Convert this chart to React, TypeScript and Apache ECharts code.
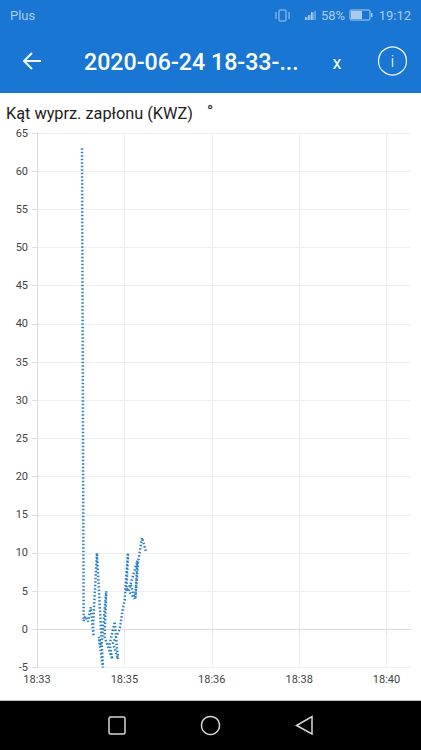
import React, { useEffect, useRef } from "react";
import * as echarts from "echarts";

const xTickLabels = ["18:33", "18:35", "18:36", "18:38", "18:40"];
const xTickPositions = [0, 1, 2, 3, 4];
const yTicks = [-5, 0, 5, 10, 15, 20, 25, 30, 35, 40, 45, 50, 55, 60, 65];
// x is measured in tick intervals after 18:33
const timeOffsets = [0.515, 0.534, 0.553, 0.584, 0.614, 0.648, 0.641, 0.686, 0.755, 0.706, 0.736, 0.793, 0.774, 0.862, 0.831, 0.889, 0.927, 0.87, 0.946, 0.984, 1.003, 1.041, 1.022, 1.072, 1.118, 1.049, 1.148, 1.125, 1.156, 1.201, 1.251];
const ignitionAngle = [63, 1.1, 1.7, 1, 2.9, -0.9, 0.4, 10, -5, -1, -2.3, 5, -1, -3.9, -2, 1, -3.9, -1.8, 0, 2.8, 3.8, 10, 5, 5.9, 4, 5, 9, 4, 8.7, 12, 10];

const titleText = "Kąt wyprz. zapłonu (KWZ)";
const headerText = "2020-06-24 18-33-...";

const BLUE = "#1976d2";
const FONT = "Roboto, 'Noto Sans', sans-serif";

export default function App() {
  const ref = useRef<HTMLDivElement>(null);
  useEffect(() => {
    document.body.style.margin = "0";
    const chart = echarts.init(ref.current!, null, { renderer: "svg" });
    const t = (text: string, x: number, y: number, size: number, fill: string, extra: any = {}) => ({
      type: "text", x, y,
      style: { text, fill, font: `${extra.weight || 400} ${size}px ${FONT}`, textAlign: extra.align || "left", textVerticalAlign: "middle" },
    });
    const muted = "#a9cbef";
    chart.setOption({
      animation: false,
      backgroundColor: "#fff",
      grid: { left: 37, right: 10, top: 133, height: 534.5 },
      xAxis: {
        type: "value", min: 0, max: 4.28,
        axisLine: { show: true, lineStyle: { color: "#dcdcdc" } },
        axisTick: { show: true, customValues: xTickPositions, length: 4, lineStyle: { color: "#dcdcdc" } },
        axisLabel: {
          customValues: xTickPositions,
          formatter: (v: number) => xTickLabels[Math.round(v)],
          color: "#444", fontSize: 11, fontFamily: FONT, margin: 6,
        },
        splitLine: { show: true, lineStyle: { color: "#eeeeee" } },
      },
      yAxis: {
        type: "value", min: -5, max: 65, interval: 5,
        axisLine: { show: true, lineStyle: { color: "#dcdcdc" } },
        axisTick: { show: true, length: 5, lineStyle: { color: "#dcdcdc" } },
        axisLabel: { color: "#444", fontSize: 11, fontFamily: FONT, margin: 9,
          formatter: (v: number) => String(yTicks[yTicks.indexOf(v)]) },
        splitLine: { show: true, lineStyle: { color: "#eeeeee" } },
      },
      series: [{
        type: "line", showSymbol: false, silent: true,
        data: timeOffsets.map((x, i) => [x, ignitionAngle[i]]),
        lineStyle: { color: "#2b80c9", width: 2.5, type: [1.5, 2] },
      }],
      graphic: [
        { type: "rect", shape: { x: 0, y: 0, width: 421, height: 93 }, style: { fill: BLUE }, silent: true },
        t("Plus", 10, 15, 13, muted),
        t("58%", 333, 15, 13, muted, { align: "center" }),
        t("19:12", 411, 15, 13, muted, { align: "right" }),
        { type: "rect", shape: { x: 279, y: 10, width: 7, height: 11, r: 1 }, style: { fill: "none", stroke: muted, lineWidth: 1 } },
        { type: "line", shape: { x1: 276, y1: 12, x2: 276, y2: 19 }, style: { stroke: muted, lineWidth: 1 } },
        { type: "line", shape: { x1: 289, y1: 12, x2: 289, y2: 19 }, style: { stroke: muted, lineWidth: 1 } },
        { type: "polygon", shape: { points: [[304, 20], [316, 20], [316, 10]] }, style: { fill: "#5f9fe0" } },
        { type: "rect", shape: { x: 305, y: 17, width: 1.5, height: 3 }, style: { fill: muted } },
        { type: "rect", shape: { x: 308, y: 15, width: 1.5, height: 5 }, style: { fill: muted } },
        { type: "rect", shape: { x: 311, y: 12, width: 1.5, height: 8 }, style: { fill: muted } },
        { type: "rect", shape: { x: 350, y: 10, width: 20, height: 10, r: 1 }, style: { fill: "none", stroke: muted, lineWidth: 1 } },
        { type: "rect", shape: { x: 351, y: 11, width: 11, height: 8 }, style: { fill: muted } },
        { type: "rect", shape: { x: 371, y: 13, width: 1.5, height: 4 }, style: { fill: muted } },
        { type: "polyline", shape: { points: [[24, 61], [32, 53], [24, 61], [32, 69]] }, style: { fill: "none", stroke: "#f1f6fc", lineWidth: 2 } },
        { type: "line", shape: { x1: 24, y1: 61, x2: 41, y2: 61 }, style: { stroke: "#f1f6fc", lineWidth: 2 } },
        t(headerText, 84, 62, 23.2, "#fbfdff", { weight: 500 }),
        t("x", 337, 62, 18, "#fbfdff", { align: "center", weight: 400 }),
        { type: "circle", shape: { cx: 392.5, cy: 61, r: 14 }, style: { fill: "none", stroke: "#f1f6fc", lineWidth: 1.2 } },
        t("i", 392.5, 61, 17, "#f1f6fc", { align: "center", weight: 300 }),
        t(titleText, 6, 113, 16.3, "#222"),
        t("°", 210, 111, 16.5, "#222", { align: "center" }),
        { type: "rect", shape: { x: 0, y: 700, width: 421, height: 50 }, style: { fill: "#000" } },
        { type: "line", shape: { x1: 0, y1: 700.5, x2: 421, y2: 700.5 }, style: { stroke: "#bdbdbd", lineWidth: 1 } },
        { type: "rect", shape: { x: 109, y: 717, width: 16, height: 17, r: 1.5 }, style: { fill: "none", stroke: "#d8d8d8", lineWidth: 1.5 } },
        { type: "circle", shape: { cx: 210.5, cy: 725.5, r: 9 }, style: { fill: "none", stroke: "#d8d8d8", lineWidth: 1.5 } },
        { type: "polygon", shape: { points: [[312, 716.5], [312, 734], [296.5, 725.5]] }, style: { fill: "none", stroke: "#d8d8d8", lineWidth: 1.5 } },
      ],
    });
    return () => chart.dispose();
  }, []);
  return <div ref={ref} style={{ position: "absolute", left: 0, top: 0, width: 421, height: 750 }} />;
}
